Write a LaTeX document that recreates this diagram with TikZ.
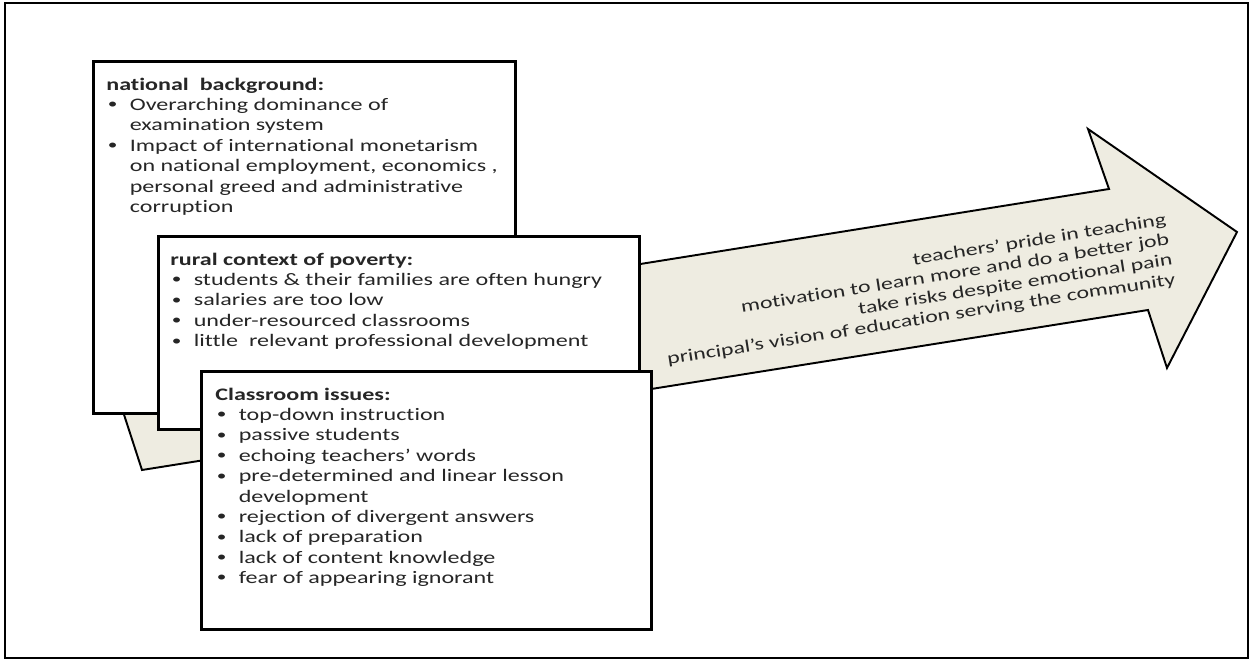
\documentclass[tikz,border=0pt]{standalone}
\usepackage{fontspec}
\setmainfont{Carlito}[FakeStretch=1.37, Ligatures={TeX,NoCommon}]
\usepackage{tikz}
\usetikzlibrary{positioning}
\definecolor{corbege}{RGB}{238,236,225}
\definecolor{cortexto}{RGB}{38,38,38}
\newcommand{\bitem}{\makebox[0.47cm][l]{\hspace{0.03cm}\raisebox{0.2ex}{\scalebox{0.8}{\textbullet}}}}
\newcommand{\bcont}{\hspace*{0.47cm}}

\begin{document}
\begin{tikzpicture}[
  x=0.02cm, y=-0.02cm,
  caixa/.style={rectangle, draw=black, line width=1.6pt, fill=white,
                anchor=north west, inner sep=0pt},
  texto/.style={anchor=north west, inner sep=0pt, align=left, text=cortexto,
                font=\fontsize{10}{11.6}\selectfont},
  flecha/.style={draw=black, line width=1.1pt, fill=corbege, line join=miter},
  rotulo/.style={align=right, rotate=9, inner sep=0pt, text=cortexto,
                 font=\fontsize{9.9}{11.4}\selectfont}
]
  \useasboundingbox (0,0) rectangle (1251,661);
  \draw[line width=1.4pt] (5,3) rectangle (1248,658);

  % seta larga ao fundo
  \draw[flecha] (103,350) -- (1109,189) -- (1088,129) -- (1237,232)
    -- (1167,368) -- (1148,310) -- (142,470) -- cycle;
  \node[rotulo, anchor=east] (ganhos) at (1171,250)
    {teachers’ pride in teaching\\
     motivation to learn more and do a better job\\
     take risks despite emotional pain\\
     principal’s vision of education serving the community};

  % caixas
  \node[caixa, minimum width=8.44cm, minimum height=7.04cm] (nacional) at (92,60) {};
  \node[texto] (nacionalT) at ([xshift=0.28cm, yshift=-0.35cm]nacional.north west)
    {\textbf{national\ \ background:}\\
     \bitem Overarching dominance of\\
     \bcont examination system\\
     \bitem Impact of international monetarism\\
     \bcont on national employment, economics ,\\
     \bcont personal greed and administrative\\
     \bcont corruption};

  \node[caixa, minimum width=9.62cm, minimum height=3.86cm] (rural) at (157,235) {};
  \node[texto] (ruralT) at ([xshift=0.26cm, yshift=-0.35cm]rural.north west)
    {\textbf{rural context of poverty:}\\
     \bitem students \& their families are often hungry\\
     \bitem salaries are too low\\
     \bitem under-resourced classrooms\\
     \bitem little\ \ relevant professional development};

  \node[caixa, minimum width=9.0cm, minimum height=5.16cm] (sala) at (200,370) {};
  \node[texto] (salaT) at ([xshift=0.30cm, yshift=-0.35cm]sala.north west)
    {\textbf{Classroom issues:}\\
     \bitem top-down instruction\\
     \bitem passive students\\
     \bitem echoing teachers’ words\\
     \bitem pre-determined and linear lesson\\
     \bcont development\\
     \bitem rejection of divergent answers\\
     \bitem lack of preparation\\
     \bitem lack of content knowledge\\
     \bitem fear of appearing ignorant};
\end{tikzpicture}
\end{document}
